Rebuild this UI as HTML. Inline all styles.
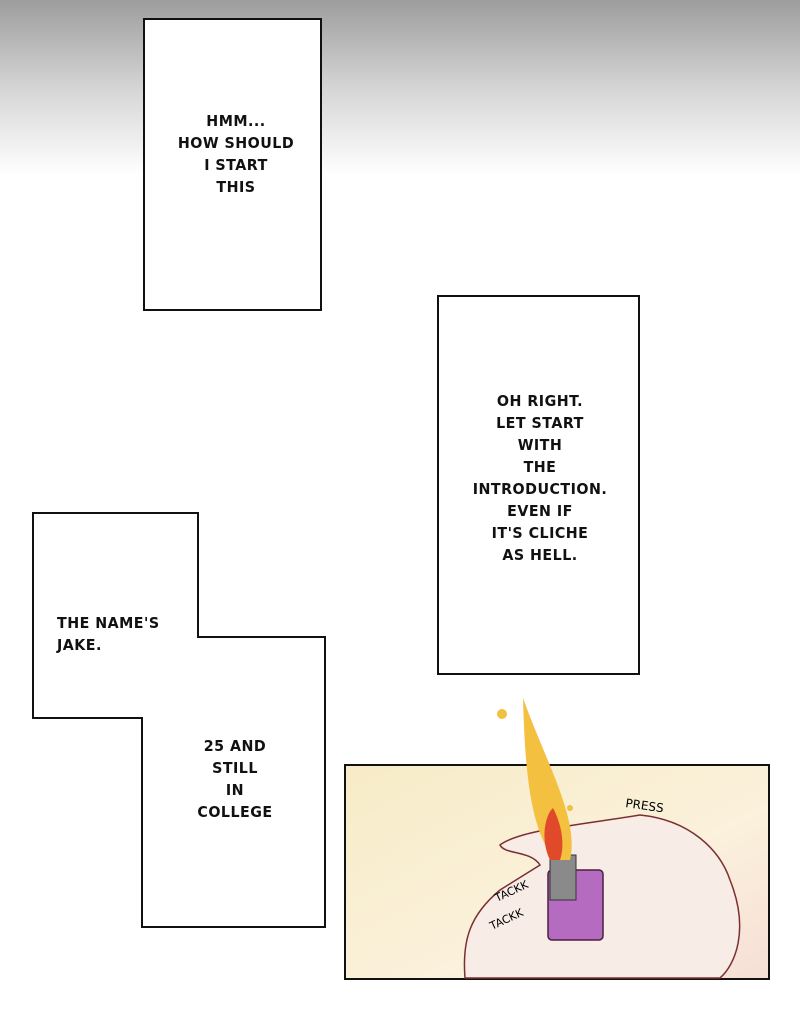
<!DOCTYPE html>
<html><head><meta charset="utf-8"><style>
body{margin:0;width:800px;height:1028px;position:relative;overflow:hidden;background:linear-gradient(#9d9d9d 0px,#d6d6d6 90px,#fff 175px,#fff 100%);font-family:"DejaVu Sans","Liberation Sans",sans-serif;}
.box{position:absolute;background:#fff;border:2px solid #111;box-sizing:border-box;}
.t{position:absolute;font-size:15px;line-height:22px;color:#111;text-align:center;letter-spacing:0.5px;font-weight:bold;transform:scaleX(0.95);}
</style></head><body>
<div class="box" style="left:143px;top:18px;width:179px;height:293px"></div>
<div class="t" style="left:146px;top:110px;width:180px">HMM...<br>HOW SHOULD<br>I START<br>THIS</div>
<div class="box" style="left:437px;top:295px;width:203px;height:380px"></div>
<div class="t" style="left:440px;top:390px;width:200px">OH RIGHT.<br>LET START<br>WITH<br>THE<br>INTRODUCTION.<br>EVEN IF<br>IT'S CLICHE<br>AS HELL.</div>
<svg style="position:absolute;left:0;top:0" width="800" height="1028">
<polygon points="33,513 198,513 198,637 325,637 325,927 142,927 142,718 33,718" fill="#fff" stroke="#111" stroke-width="2"/>
<defs><linearGradient id="g" x1="0" y1="0" x2="1" y2="1"><stop offset="0" stop-color="#f7ecc6"/><stop offset="0.6" stop-color="#fbf1dc"/><stop offset="1" stop-color="#f6dfd6"/></linearGradient></defs>
<rect x="345" y="765" width="424" height="214" fill="url(#g)" stroke="#111" stroke-width="2"/>
<path d="M465,978 C462,940 470,915 500,890 L540,865 C530,850 505,855 500,845 C520,830 580,825 640,815 C690,820 720,850 730,880 C750,930 735,965 720,978 Z" fill="#f8ece6" stroke="#7a3030" stroke-width="1.5"/>
<rect x="548" y="870" width="55" height="70" rx="4" fill="#b46bc0" stroke="#4a2040" stroke-width="1.5"/>
<rect x="550" y="855" width="26" height="45" fill="#8a8a8a" stroke="#333"/>
<path d="M555,860 C530,830 525,770 523,698 C545,760 580,820 570,860 Z" fill="#f3c040"/>
<path d="M550,860 C540,840 545,815 553,808 C562,825 565,845 560,860 Z" fill="#e04a2a"/>
<circle cx="502" cy="714" r="5" fill="#f0c040"/><circle cx="570" cy="808" r="3" fill="#f0c040"/>
<text x="625" y="807" font-size="12" font-family="DejaVu Sans" transform="rotate(8 625 807)">PRESS</text>
<text x="497" y="902" font-size="11" font-family="DejaVu Sans" transform="rotate(-25 497 902)">TACKK</text>
<text x="492" y="930" font-size="11" font-family="DejaVu Sans" transform="rotate(-25 492 930)">TACKK</text>
</svg>
<div class="t" style="left:40px;top:612px;width:120px;text-align:left;left:54px">THE NAME'S<br>JAKE.</div>
<div class="t" style="left:175px;top:735px;width:120px">25 AND<br>STILL<br>IN<br>COLLEGE</div>
</body></html>
